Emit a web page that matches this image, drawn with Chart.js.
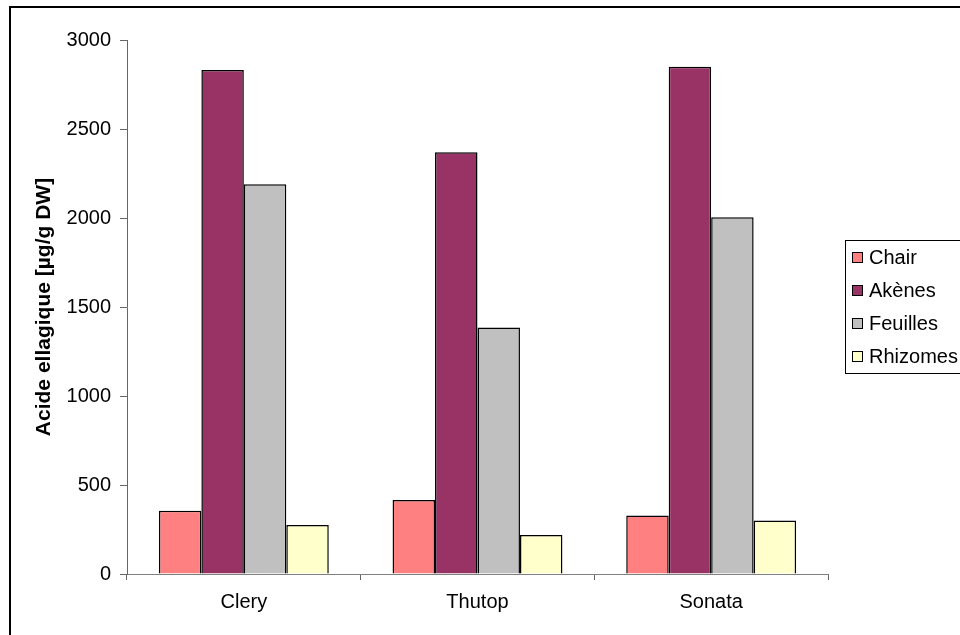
<!DOCTYPE html>
<html>
<head>
<meta charset="utf-8">
<script src="https://cdn.jsdelivr.net/npm/chart.js@4/dist/chart.umd.min.js"></script>
<style>
  html, body { margin: 0; padding: 0; background: #fff; }
  #wrap { width: 960px; height: 635px; }
</style>
</head>
<body>
<div id="wrap"><canvas id="c" width="960" height="635"></canvas></div>
<script>
// Varieties and tissue series (acide ellagique, µg/g DW)
const varieties = ['Clery', 'Thutop', 'Sonata'];
const chair    = [355, 416, 328];
const akenes   = [2832, 2370, 2850];
const feuilles = [2190, 1385, 2004];
const rhizomes = [275, 219, 300];
const yTicks   = [0, 500, 1000, 1500, 2000, 2500, 3000];

const FONT = "'Liberation Sans', Arial, sans-serif";

// White page plus the thin frame around the chart
const framePlugin = {
  id: 'frame',
  beforeDraw(chart) {
    const ctx = chart.ctx;
    ctx.save();
    ctx.fillStyle = '#ffffff';
    ctx.fillRect(0, 0, chart.width, chart.height);
    ctx.restore();
  },
  afterDraw(chart) {
    const ctx = chart.ctx;
    ctx.save();
    ctx.strokeStyle = '#000000';
    ctx.lineWidth = 2;
    ctx.beginPath();
    ctx.moveTo(10, chart.height + 2);
    ctx.lineTo(10, 7);
    ctx.lineTo(chart.width + 2, 7);
    ctx.stroke();
    ctx.restore();
  }
};

// Boxed legend on the right, built from the datasets
const boxLegend = {
  id: 'boxLegend',
  afterDraw(chart) {
    const ctx = chart.ctx;
    const x0 = 845, y0 = 240, h = 133, step = 33;
    ctx.save();
    ctx.strokeStyle = '#000000';
    ctx.lineWidth = 1;
    ctx.strokeRect(x0 + 0.5, y0 + 0.5, 200, h);
    ctx.font = '20px ' + FONT;
    ctx.textBaseline = 'middle';
    ctx.textAlign = 'left';
    chart.data.datasets.forEach((ds, i) => {
      const cy = Math.round(y0 + step / 2 + i * step);
      ctx.fillStyle = ds.backgroundColor;
      ctx.fillRect(852, cy - 5, 11, 11);
      ctx.strokeStyle = '#000000';
      ctx.strokeRect(852.5, cy - 4.5, 10, 10);
      ctx.fillStyle = '#000000';
      ctx.fillText(ds.label, 869, cy + 1);
    });
    ctx.restore();
  }
};

const barStyle = { borderColor: '#000000', borderWidth: 1.5, categoryPercentage: 0.727, barPercentage: 1.0 };

new Chart(document.getElementById('c'), {
  type: 'bar',
  data: {
    labels: varieties,
    datasets: [
      Object.assign({ label: 'Chair',    data: chair,    backgroundColor: '#FF8080' }, barStyle),
      Object.assign({ label: 'Akènes',   data: akenes,   backgroundColor: '#993366' }, barStyle),
      Object.assign({ label: 'Feuilles', data: feuilles, backgroundColor: '#C0C0C0' }, barStyle),
      Object.assign({ label: 'Rhizomes', data: rhizomes, backgroundColor: '#FFFFCC' }, barStyle)
    ]
  },
  options: {
    responsive: false,
    animation: false,
    devicePixelRatio: 1,
    layout: { padding: { left: 0, top: 40, right: 132, bottom: 0 } },
    plugins: {
      legend: { display: false },
      tooltip: { enabled: false }
    },
    scales: {
      x: {
        type: 'category',
        offset: true,
        grid: { offset: true, drawOnChartArea: false, drawTicks: true, tickLength: 6, color: '#666666' },
        border: { color: '#808080', width: 1 },
        ticks: { color: '#000000', font: { family: FONT, size: 20 }, padding: 10, maxRotation: 0 },
        afterFit(s) { s.height = 61; }
      },
      y: {
        min: 0,
        max: 3000,
        afterBuildTicks(s) { s.ticks = yTicks.map(v => ({ value: v })); },
        grid: { drawOnChartArea: false, drawTicks: true, tickLength: 7, color: '#666666' },
        border: { color: '#666666', width: 1 },
        ticks: {
          color: '#000000',
          font: { family: FONT, size: 20 },
          padding: 9,
          callback: v => String(v)
        },
        title: {
          display: true,
          text: 'Acide ellagique [µg/g DW]',
          color: '#000000',
          font: { family: FONT, size: 21, weight: 'bold' },
          padding: { top: 32, bottom: 0 }
        },
        afterFit(s) { s.width = 127; }
      }
    }
  },
  plugins: [framePlugin, boxLegend]
});
</script>
</body>
</html>
